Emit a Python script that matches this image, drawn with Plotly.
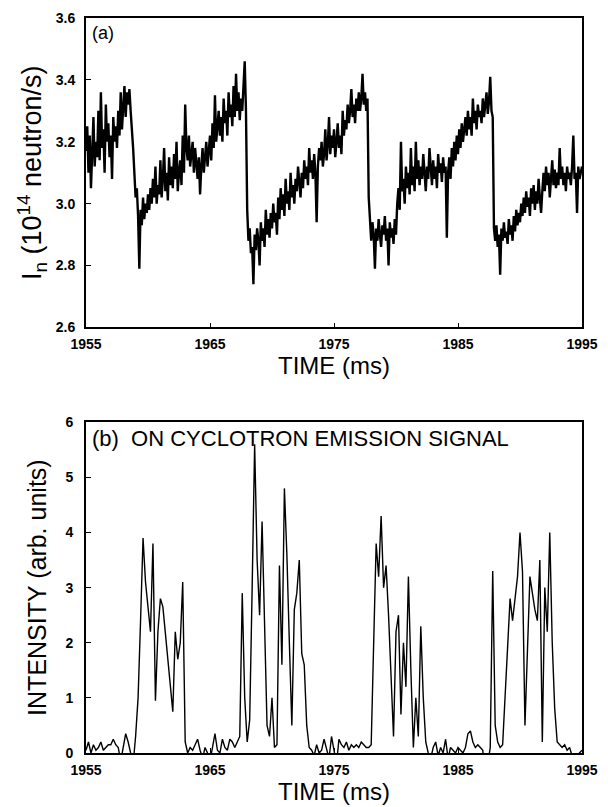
import plotly.graph_objects as go

# ---------------- data ----------------
# panel (a): neutron emission rate, sampled every 0.1 ms from 1955 ms
neutron_t0 = 1955.0
neutron_dt = 0.1
neutron_rate = [
    3.17, 3.25, 3.10, 3.22, 3.05, 3.18, 3.28, 3.12, 3.20, 3.15,
    3.30, 3.14, 3.36, 3.18, 3.24, 3.10, 3.32, 3.20, 3.26, 3.15,
    3.22, 3.08, 3.28, 3.20, 3.25, 3.18, 3.30, 3.22, 3.36, 3.24,
    3.30, 3.38, 3.28, 3.36, 3.32, 3.37, 3.30, 3.25, 3.18, 3.10,
    3.02, 3.05, 2.96, 2.79, 2.98, 2.93, 3.02, 2.95, 3.00, 2.97,
    3.03, 2.98, 3.05, 3.00, 3.08, 3.02, 3.12, 3.00, 3.06, 3.03,
    3.14, 3.02, 3.08, 3.18, 3.04, 3.10, 3.01, 3.15, 3.06, 3.12,
    3.05, 3.16, 3.08, 3.20, 3.04, 3.10, 3.14, 3.06, 3.22, 3.10,
    3.32, 3.18, 3.14, 3.22, 3.12, 3.16, 3.20, 3.10, 3.18, 3.13,
    3.08, 3.15, 3.03, 3.12, 3.18, 3.10, 3.14, 3.20, 3.12, 3.16,
    3.22, 3.14, 3.26, 3.18, 3.35, 3.20, 3.24, 3.30, 3.22, 3.28,
    3.20, 3.34, 3.26, 3.30, 3.22, 3.36, 3.28, 3.32, 3.25, 3.38,
    3.28, 3.42, 3.30, 3.36, 3.27, 3.34, 3.30, 3.40, 3.46, 3.30,
    2.98, 2.88, 2.92, 2.84, 2.86, 2.74, 2.90, 2.85, 2.92, 2.88,
    2.80, 2.94, 2.88, 2.92, 2.86, 2.98, 2.90, 2.95, 2.89, 2.97,
    2.92, 3.00, 2.94, 2.97, 2.90, 3.02, 2.95, 3.05, 2.98, 3.03,
    2.96, 3.08, 3.00, 3.04, 2.98, 3.10, 3.02, 3.06, 3.00, 3.08,
    3.04, 3.12, 3.06, 3.02, 3.10, 3.05, 3.14, 3.08, 3.12, 3.06,
    3.18, 3.10, 3.14, 3.08, 3.16, 3.10, 2.94, 3.12, 3.18, 3.14,
    3.20, 3.12, 3.16, 3.24, 3.14, 3.19, 3.28, 3.16, 3.22, 3.18,
    3.24, 3.15, 3.20, 3.26, 3.18, 3.22, 3.16, 3.30, 3.22, 3.27,
    3.24, 3.32, 3.26, 3.30, 3.37, 3.28, 3.32, 3.26, 3.34, 3.30,
    3.36, 3.30, 3.34, 3.42, 3.32, 3.36, 3.30, 3.34, 3.02, 2.92,
    2.88, 2.94, 2.90, 2.79, 2.92, 2.88, 2.95, 2.90, 2.86, 2.93,
    2.90, 2.96, 2.88, 2.92, 2.80, 2.94, 2.89, 2.92, 2.87, 2.95,
    2.90, 3.00, 3.05, 2.98, 3.20, 3.04, 3.08, 3.00, 3.12, 3.05,
    3.10, 3.03, 3.18, 3.06, 3.12, 3.04, 3.20, 3.08, 3.14, 3.06,
    3.12, 3.08, 3.16, 3.10, 3.04, 3.12, 3.08, 3.18, 3.10, 3.06,
    3.14, 3.08, 3.12, 3.05, 3.16, 3.10, 3.13, 3.07, 3.15, 3.10,
    3.12, 2.89, 3.10, 3.15, 3.08, 3.18, 3.12, 3.20, 3.14, 3.22,
    3.16, 3.24, 3.18, 3.26, 3.20, 3.24, 3.28, 3.22, 3.30, 3.24,
    3.28, 3.22, 3.34, 3.26, 3.30, 3.24, 3.32, 3.28, 3.30, 3.26,
    3.34, 3.28, 3.32, 3.36, 3.29, 3.33, 3.41, 3.30, 3.28, 2.92,
    2.88, 2.93, 2.86, 2.90, 2.77, 2.92, 2.88, 2.94, 2.89, 2.91,
    2.87, 2.95, 2.90, 2.93, 2.88, 2.96, 2.91, 2.98, 2.93, 2.97,
    2.94, 3.00, 2.96, 3.02, 2.97, 3.04, 2.99, 3.02, 2.96, 3.05,
    3.00, 3.06, 2.98, 3.04, 3.00, 3.08, 3.02, 2.97, 3.04, 3.10,
    3.04, 3.12, 3.06, 3.10, 3.02, 3.08, 3.14, 3.06, 3.11, 3.05,
    3.10, 3.06, 3.18, 3.08, 3.12, 3.06, 3.10, 3.04, 3.12, 3.08,
    3.10, 3.06, 3.12, 3.22, 3.08, 3.10, 2.97, 3.12, 3.08, 3.10,
    3.12,
]

# panel (b): cyclotron emission intensity, sampled every 0.2 ms from 1955 ms
ece_t0 = 1955.0
ece_dt = 0.2
ece_intensity = [
    0.05, 0.20, 0.00, 0.15, 0.05,
    0.10, 0.20, 0.05, 0.10, 0.15,
    0.15, 0.25, 0.15, 0.10, -0.15,
    0.10, 0.35, 0.20, -0.05, -0.20,
    0.30, 1.00, 2.40, 3.90, 3.10,
    2.70, 2.20, 3.80, 0.95, 2.20,
    2.80, 2.65, 2.20, 1.70, 1.30,
    0.75, 2.20, 1.70, 2.00, 3.10,
    0.20, 0.00, 0.10, 0.05, 0.15,
    0.25, 0.05, -0.10, 0.10, 0.00,
    -0.15, 0.10, 0.35, 0.05, 0.00,
    0.25, 0.10, 0.05, 0.25, 0.20,
    0.10, 0.20, 0.30, 2.90, 1.00,
    0.20, 0.60, 3.00, 5.60, 3.50,
    2.50, 4.20, 2.40, 0.50, 0.30,
    1.00, 0.10, 0.15, 3.40, 1.60,
    4.80, 3.60, 2.00, 0.50, 2.60,
    2.90, 3.50, 1.80, 1.60, 0.50,
    0.10, 0.05, -0.05, 0.15, 0.00,
    0.05, 0.25, 0.10, -0.10, 0.30,
    0.05, -0.20, 0.25, 0.15, 0.10,
    0.20, 0.05, 0.15, 0.10, 0.15,
    0.10, 0.20, 0.15, 0.10, 0.10,
    0.15, 2.00, 3.80, 3.20, 4.30,
    3.00, 3.40, 2.50, 1.50, 0.30,
    2.20, 2.50, 0.70, 2.00, 1.20,
    3.20, 1.50, 0.10, 1.00, 0.30,
    2.30, 1.00, 0.20, 0.00, -0.10,
    0.10, 0.20, -0.05, 0.10, 0.00,
    0.25, -0.10, 0.10, 0.05, 0.00,
    0.10, 0.05, 0.00, 0.10, 0.35,
    0.40, 0.20, 0.10, 0.15, 0.10,
    0.05, -0.50, -0.20, 0.10, 3.30,
    0.50, 0.20, 0.10, 0.15, 1.00,
    2.00, 2.80, 2.40, 2.80, 3.20,
    4.00, 3.30, 0.50, 2.00, 3.20,
    2.90, 2.60, 2.40, 3.50, 0.20,
    3.00, 2.20, 4.00, 2.00, 0.80,
    0.20, 0.15, 0.10, 0.15, 0.05,
    0.10, -0.05, -0.10, -0.10, 0.00,
    0.05,
]

time_ticks = [1955, 1965, 1975, 1985, 1995]
neutron_ticks = [2.6, 2.8, 3.0, 3.2, 3.4, 3.6]
ece_ticks = [0, 1, 2, 3, 4, 5, 6]

# ---------------- figure ----------------
neutron_time = [neutron_t0 + i * neutron_dt for i in range(len(neutron_rate))]
ece_time = [ece_t0 + i * ece_dt for i in range(len(ece_intensity))]

FONT = "Liberation Sans, Arial, sans-serif"
fig = go.Figure()
fig.add_trace(go.Scatter(x=neutron_time, y=neutron_rate, mode="lines",
                         line=dict(color="black", width=2.4),
                         xaxis="x", yaxis="y", showlegend=False))
fig.add_trace(go.Scatter(x=ece_time, y=ece_intensity, mode="lines",
                         line=dict(color="black", width=1.4),
                         xaxis="x2", yaxis="y2", showlegend=False))

axis_common = dict(showline=True, linecolor="black", linewidth=1.8, mirror=True,
                   ticks="inside", ticklen=5, tickwidth=1.2, tickcolor="black",
                   showgrid=False, zeroline=False,
                   tickfont=dict(family=FONT, size=14, color="black", weight="bold"))

x_title = dict(text="TIME (ms)", font=dict(family=FONT, size=24, color="black"), standoff=2)

fig.update_layout(
    width=608, height=807,
    margin=dict(l=86, r=18, t=10, b=37),
    plot_bgcolor="white", paper_bgcolor="white",
    xaxis=dict(domain=[0, 1], anchor="y", range=[1955, 1995],
               tickvals=time_ticks, ticktext=[str(v) for v in time_ticks],
               ticklabelstandoff=3, title=x_title, **axis_common),
    yaxis=dict(domain=[0.579, 1.0], anchor="x", range=[2.6, 3.6],
               tickvals=neutron_ticks, ticktext=[f"{v:.1f}" for v in neutron_ticks],
               ticklabelstandoff=6,
               title=dict(text="I<sub>n</sub> (10<sup>14</sup> neutron/s)",
                          font=dict(family=FONT, size=27, color="black"), standoff=6),
               **axis_common),
    xaxis2=dict(domain=[0, 1], anchor="y2", range=[1955, 1995],
                tickvals=time_ticks, ticktext=[str(v) for v in time_ticks],
                ticklabelstandoff=3, title=x_title, **axis_common),
    yaxis2=dict(domain=[0, 0.45], anchor="x2", range=[0, 6],
                tickvals=ece_ticks, ticktext=[str(v) for v in ece_ticks],
                ticklabelstandoff=8,
                title=dict(text="INTENSITY (arb. units)",
                           font=dict(family=FONT, size=25, color="black"), standoff=12),
                **axis_common),
    annotations=[
        dict(text="(a)", xref="x domain", yref="y domain", x=0.0, y=0.99, xshift=4,
             xanchor="left", yanchor="top", showarrow=False,
             font=dict(family=FONT, size=18, color="black")),
        dict(text="(b)  ON CYCLOTRON EMISSION SIGNAL", xref="x2 domain", yref="y2 domain",
             x=0.0, y=0.995, xshift=4, xanchor="left", yanchor="top", showarrow=False,
             font=dict(family=FONT, size=22, color="black")),
    ],
)

fig.write_html("out.html", config={"displayModeBar": False},
               post_script="document.body.style.margin='0';")
